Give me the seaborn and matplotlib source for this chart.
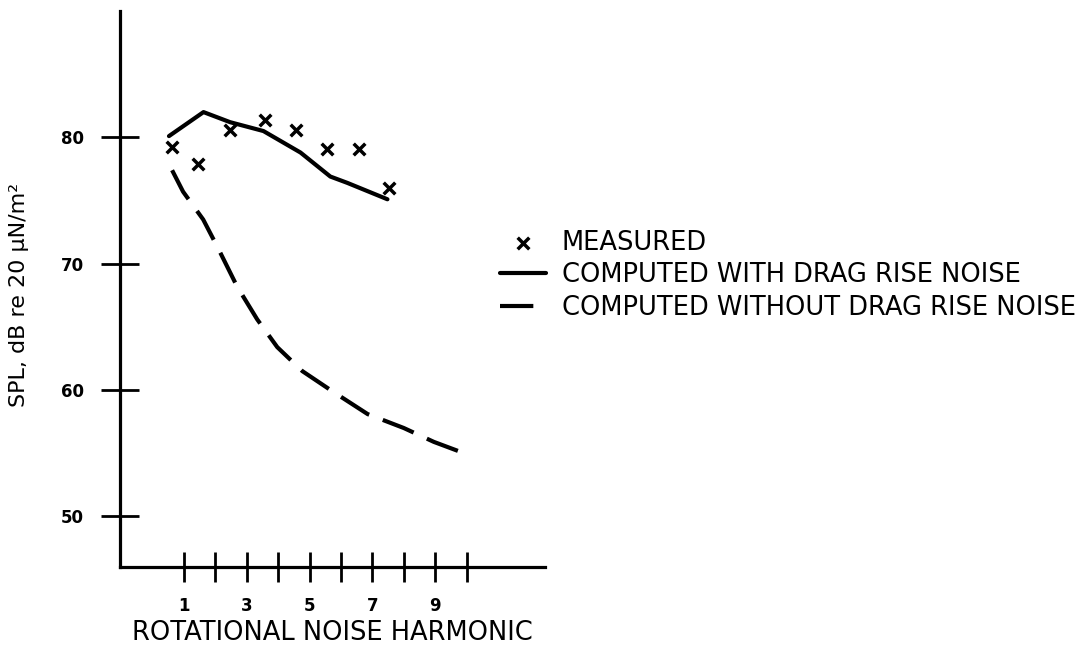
import matplotlib
matplotlib.use("Agg")
import matplotlib.pyplot as plt
import seaborn as sns
import pandas as pd

# ---- data ----
measured_harmonic = [0.61, 1.44, 2.47, 3.59, 4.57, 5.56, 6.57, 7.53]
measured_db = [79.2, 77.9, 80.6, 81.4, 80.6, 79.1, 79.1, 76.0]

with_drag_harmonic = [0.52, 1.62, 2.47, 3.53, 4.71, 5.66, 6.2, 7.48]
with_drag_db = [80.1, 82.0, 81.2, 80.5, 78.8, 76.9, 76.4, 75.1]

without_drag_harmonic = [0.62, 0.97, 1.61, 2.09, 2.69, 3.33, 3.97, 4.77, 5.73, 6.85, 8.0, 8.96, 9.82]
without_drag_db = [77.4, 75.7, 73.5, 71.2, 68.2, 65.6, 63.4, 61.5, 59.9, 58.1, 57.0, 55.9, 55.1]

x_ticks = [1, 2, 3, 4, 5, 6, 7, 8, 9, 10]
x_tick_labels = ["1", "", "3", "", "5", "", "7", "", "9", ""]
y_ticks = [50, 60, 70, 80]
y_tick_labels = ["50", "60", "70", "80"]

label_measured = "MEASURED"
label_with = "COMPUTED WITH DRAG RISE NOISE"
label_without = "COMPUTED WITHOUT DRAG RISE NOISE"
x_title = "ROTATIONAL NOISE HARMONIC"
y_title = "SPL, dB re 20 μN/m²"

# ---- figure ----
sns.set_theme(style="white")
plt.rcParams["font.family"] = ["DejaVu Sans"]
plt.rcParams["text.color"] = "black"
plt.rcParams["axes.labelcolor"] = "black"
plt.rcParams["xtick.color"] = "black"
plt.rcParams["ytick.color"] = "black"

fig = plt.figure(figsize=(10.83, 6.52), dpi=100)
ax = fig.add_axes([120 / 1083, 1 - 567 / 652, 425 / 1083, 556 / 652])

df_meas = pd.DataFrame({"h": measured_harmonic, "db": measured_db})
df_with = pd.DataFrame({"h": with_drag_harmonic, "db": with_drag_db})
df_without = pd.DataFrame({"h": without_drag_harmonic, "db": without_drag_db})

sns.scatterplot(data=df_meas, x="h", y="db", ax=ax, marker="x", color="black",
                s=70, linewidth=2.5, label=label_measured, zorder=3)
sns.lineplot(data=df_with, x="h", y="db", ax=ax, color="black", linewidth=3,
             label=label_with, sort=False, estimator=None)
sns.lineplot(data=df_without, x="h", y="db", ax=ax, color="black", linewidth=3,
             linestyle=(0, (8, 3.5)), label=label_without, sort=False, estimator=None)

ax.set_xlim(-1.04, 12.5)
ax.set_ylim(46, 90)

ax.set_xticks(x_ticks)
ax.set_xticklabels(x_tick_labels, fontsize=12, fontweight="bold")
ax.set_yticks(y_ticks)
ax.set_yticklabels(y_tick_labels, fontsize=12, fontweight="bold")

ax.tick_params(axis="x", direction="inout", length=21, width=2, color="black", pad=11)
ax.tick_params(axis="y", direction="inout", length=28, width=2, color="black", pad=12)
ax.tick_params(left=True, bottom=True)

for side in ["top", "right"]:
    ax.spines[side].set_visible(False)
for side in ["left", "bottom"]:
    ax.spines[side].set_color("black")
    ax.spines[side].set_linewidth(2.3)

ax.set_xlabel(x_title, fontsize=18.5, labelpad=4, color="black")
ax.set_ylabel(y_title, fontsize=16, color="black")
ax.yaxis.set_label_coords(-0.215, 0.49)
ax.grid(False)

handles, labels = ax.get_legend_handles_labels()
order = [labels.index(label_measured), labels.index(label_with), labels.index(label_without)]
leg = ax.legend([handles[i] for i in order], [labels[i] for i in order],
                loc="upper left", bbox_to_anchor=(500 / 1083, 1 - 230 / 652),
                bbox_transform=fig.transFigure, frameon=False, fontsize=18.5,
                handlelength=1.8, handletextpad=0.6, labelspacing=0.25,
                borderpad=0, borderaxespad=0)
for t in leg.get_texts():
    t.set_color("black")

fig.savefig("out.png", dpi=100)
